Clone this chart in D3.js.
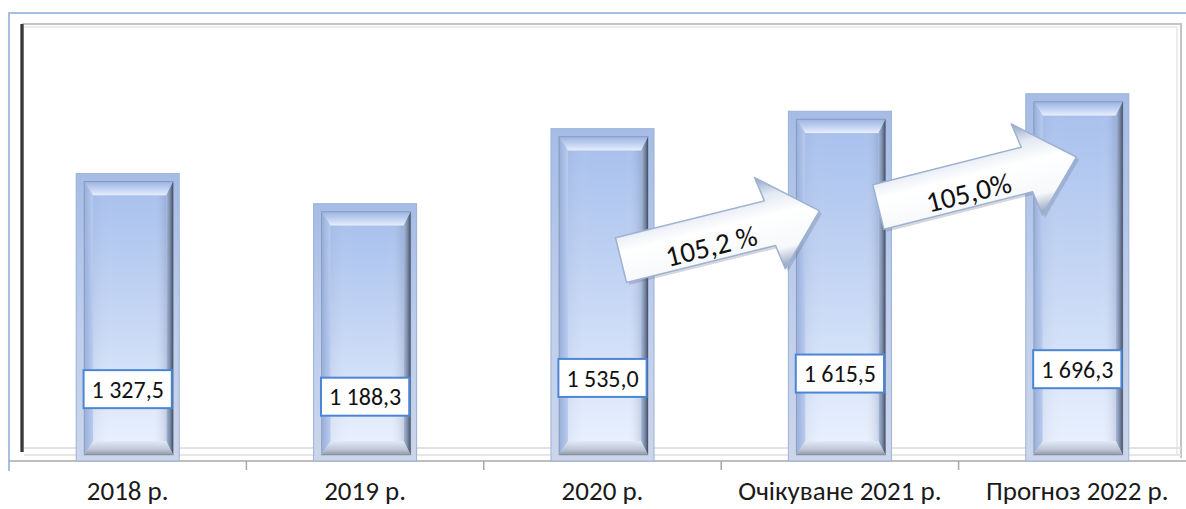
<!DOCTYPE html>
<html><head><meta charset="utf-8">
<script src="https://cdn.jsdelivr.net/npm/d3@7"></script>
<style>body{margin:0;background:#fff}svg{display:block}</style>
</head><body><svg id="c" width="1186" height="509"></svg>
<script>
// ---- data ----
const categories = ["2018 р.", "2019 р.", "2020 р.", "Очікуване 2021 р.", "Прогноз 2022 р."];
const values = [1327.5, 1188.3, 1535.0, 1615.5, 1696.3];
const valueLabels = ["1 327,5", "1 188,3", "1 535,0", "1 615,5", "1 696,3"];
// growth annotations: from category index -> to category index, with anchor values (data units)
const growthFrom = [2, 3];
const growthTo = [3, 4];
const growthText = ["105,2 %", "105,0%"];
const growthTailValue = [928, 1173];
const growthTipValue = [1155, 1404];

const W = 1186, H = 509;
const svg = d3.select("#c");
const FONT = "Carlito, Calibri, Lato, sans-serif";

const x = d3.scaleBand().domain(categories).range([9, 1196]).paddingInner(0.566).paddingOuter(0.283);
const y = d3.scaleLinear().domain([0, 2000]).range([461, 28]);

const defs = svg.append("defs");
function grad(id, x2, y2, stops) {
  const g = defs.append("linearGradient").attr("id", id)
    .attr("x1", 0).attr("y1", 0).attr("x2", x2).attr("y2", y2);
  stops.forEach(s => g.append("stop").attr("offset", s[0]).attr("stop-color", s[1]));
}
grad("rim", 0, 1, [[0, "#a6bce4"], [0.5, "#bccdec"], [1, "#ccd6ea"]]);
grad("face", 0, 1, [[0, "#a9c1ed"], [0.55, "#c9d9f5"], [1, "#e8f0fd"]]);
grad("faceH", 1, 0, [[0, "rgba(120,140,180,0.10)"], [0.3, "rgba(255,255,255,0)"], [0.8, "rgba(255,255,255,0)"], [1, "rgba(70,85,120,0.18)"]]);
grad("bTop", 0, 1, [[0, "#9db4df"], [0.6, "#c6d6f3"], [1, "#eaf0fc"]]);
grad("bLeft", 1, 0, [[0, "#98afda"], [1, "#b9cbef"]]);
grad("bRight", 1, 0, [[0, "#a8bade"], [0.6, "#76859f"], [1, "#434d63"]]);
grad("bBottom", 0, 1, [[0, "#e2e9f8"], [0.6, "#bfc6d4"], [1, "#8f98a8"]]);
grad("leftWall", 1, 0, [[0, "#aaaaaa"], [0.45, "#1a1a1a"], [1, "#8a8a8a"]]);
grad("arrowG", 0, 1, [[0, "#8ea4c6"], [0.2, "#e2e8f2"], [0.42, "#ffffff"], [0.78, "#f6f8fb"], [1, "#8a9cbc"]]);

// ---- frame / walls ----
svg.append("path").attr("d", "M9,471V13H1186").attr("fill", "none").attr("stroke", "#a9bfe2").attr("stroke-width", 2);
svg.append("path").attr("d", "M22,24H1181V458").attr("fill", "none").attr("stroke", "#c4c4c4").attr("stroke-width", 2);
svg.append("path").attr("d", "M24,27H1177V456").attr("fill", "none").attr("stroke", "#ececec").attr("stroke-width", 2);
svg.append("rect").attr("x", 20).attr("y", 24).attr("width", 4).attr("height", 428).attr("fill", "url(#leftWall)");
svg.append("line").attr("x1", 24).attr("x2", 1181).attr("y1", 448).attr("y2", 448).attr("stroke", "#e2e2e2").attr("stroke-width", 2);
svg.append("line").attr("x1", 24).attr("x2", 1181).attr("y1", 455).attr("y2", 455).attr("stroke", "#e6e6e6").attr("stroke-width", 2);

// ---- axis ----
const axis = svg.append("g").attr("transform", `translate(0,${y(0)})`)
  .call(d3.axisBottom(x).tickSize(0).tickPadding(20));
axis.select(".domain").attr("stroke", "#a8a8a8").attr("stroke-width", 1.5).attr("d", `M9,0H1186`);
axis.selectAll("text").attr("font-family", FONT).attr("font-size", 27).attr("fill", "#1a1a1a");
const step = x.step();
axis.selectAll(".bnd").data(categories.slice(1)).enter().append("line")
  .attr("x1", d => x(d) - (step - x.bandwidth()) / 2).attr("x2", d => x(d) - (step - x.bandwidth()) / 2)
  .attr("y1", 0).attr("y2", 9).attr("stroke", "#a8a8a8").attr("stroke-width", 1.5);

// ---- bars ----
const bars = svg.append("g").selectAll("g").data(values).enter().append("g");
bars.each(function (v, i) {
  const g = d3.select(this);
  const x0 = x(categories[i]), x1 = x0 + x.bandwidth();
  const t = y(v), b = y(0);
  g.append("rect").attr("x", x0).attr("y", t).attr("width", x1 - x0).attr("height", b - t)
    .attr("fill", "url(#rim)").attr("stroke", "#9bb1d8").attr("stroke-width", 1);
  const ix0 = x0 + 8, ix1 = x1 - 6, iy0 = t + 8, iy1 = b - 6;
  const fx0 = ix0 + 9, fx1 = ix1 - 7, fy0 = iy0 + 14, fy1 = iy1 - 14;
  const poly = (pts, fill) => g.append("polygon").attr("points", pts.map(p => p.join(",")).join(" ")).attr("fill", fill);
  poly([[ix0, iy0], [ix1, iy0], [fx1, fy0], [fx0, fy0]], "url(#bTop)");
  poly([[ix0, iy0], [fx0, fy0], [fx0, fy1], [ix0, iy1]], "url(#bLeft)");
  poly([[ix1, iy0], [ix1, iy1], [fx1, fy1], [fx1, fy0]], "url(#bRight)");
  poly([[ix0, iy1], [ix1, iy1], [fx1, fy1], [fx0, fy1]], "url(#bBottom)");
  g.append("rect").attr("x", fx0).attr("y", fy0).attr("width", fx1 - fx0).attr("height", fy1 - fy0).attr("fill", "url(#face)");
  g.append("rect").attr("x", fx0).attr("y", fy0).attr("width", fx1 - fx0).attr("height", fy1 - fy0).attr("fill", "url(#faceH)");
  g.append("rect").attr("x", ix0).attr("y", iy0).attr("width", ix1 - ix0).attr("height", iy1 - iy0)
    .attr("fill", "none").attr("stroke", "rgba(70,85,115,0.3)").attr("stroke-width", 1);
});

// ---- value labels ----
values.forEach((v, i) => {
  const cx = x(categories[i]) + x.bandwidth() / 2;
  const cy = y(v * 0.25);
  const g = svg.append("g");
  const rect = g.append("rect");
  const txt = g.append("text").attr("x", cx).attr("y", cy).attr("dy", "0.36em").attr("text-anchor", "middle")
    .attr("font-family", FONT).attr("font-size", 24).attr("fill", "#111").text(valueLabels[i]);
  const bb = txt.node().getBBox();
  rect.attr("x", cx - (bb.width + 16) / 2).attr("y", cy - 19).attr("width", bb.width + 16).attr("height", 38)
    .attr("fill", "#fff").attr("stroke", "#4b86d6").attr("stroke-width", 2);
});

// ---- growth arrows ----
growthFrom.forEach((fi, k) => {
  const ti = growthTo[k];
  const tx = x(categories[fi]) + x.bandwidth() / 2 + step * (k === 0 ? 0.078 : 0.162);
  const ty = y(growthTailValue[k]);
  const hx = x(categories[ti]) + x.bandwidth() / 2 - step * (k === 0 ? 0.086 : 0.004);
  const hy = y(growthTipValue[k]);
  const L = Math.hypot(hx - tx, hy - ty);
  const ang = Math.atan2(hy - ty, hx - tx) * 180 / Math.PI;
  const sw = 23, hw = 48, hl = 51;
  const g = svg.append("g").attr("transform", `translate(${tx},${ty}) rotate(${ang})`);
  const pts = [[0, -sw], [L - hl, -sw], [L - hl - 4, -hw], [L, 0], [L - hl + 4, hw], [L - hl, sw], [0, sw]];
  g.append("polygon").attr("points", pts.map(p => p.join(",")).join(" "))
    .attr("transform", "translate(2,3)").attr("fill", "rgba(90,100,120,0.25)");
  g.append("polygon").attr("points", pts.map(p => p.join(",")).join(" "))
    .attr("fill", "url(#arrowG)").attr("stroke", "#9db2d2").attr("stroke-width", 1.5).attr("stroke-linejoin", "round");
  g.append("text").attr("x", 91).attr("y", 18).attr("text-anchor", "middle")
    .attr("font-family", FONT).attr("font-size", 29).attr("fill", "#111").text(growthText[k]);
});
</script></body></html>
